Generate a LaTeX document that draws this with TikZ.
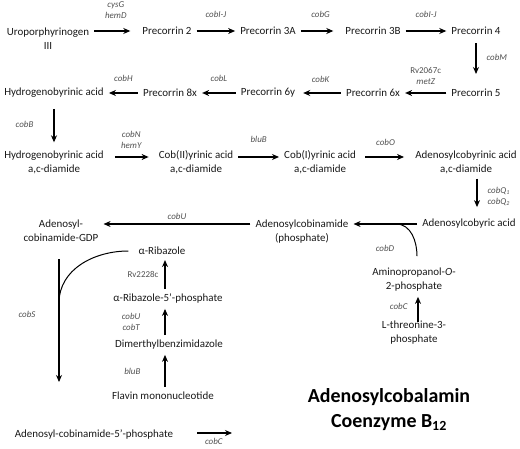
\documentclass[tikz,border=0pt]{standalone}
\usepackage{fontspec}
\setmainfont{Carlito}
\usetikzlibrary{arrows.meta}
\definecolor{enzgray}{HTML}{505050}

\begin{document}
\begin{tikzpicture}[x=1bp, y=-1bp]
%define
\tikzstyle{mol} = [inner sep=3bp, align=center, font=\fontsize{11}{14}\selectfont, text=black!90]
\tikzstyle{enz} = [inner sep=1bp, align=center, font=\fontsize{9}{10.5}\selectfont\itshape, text=enzgray]
\tikzstyle{title} = [align=center, font=\fontsize{20}{25}\selectfont\bfseries]
\tikzstyle{arrow} = [-{Stealth[length=7bp, width=6bp]}, line width=1.1bp, shorten >=2bp, shorten <=2bp]
\tikzstyle{link} = [line width=1bp]

\useasboundingbox (0,0) rectangle (520,449);

%corrin ring
\node[mol](mol_Uro) at (48,39){Uroporphyrinogen\\III};
\node[mol](mol_P2) at (167,31){Precorrin 2};
\node[mol](mol_P3A) at (268,31){Precorrin 3A};
\node[mol](mol_P3B) at (373,31){Precorrin 3B};
\node[mol](mol_P4) at (476,31){Precorrin 4};
\node[mol](mol_P5) at (476,93){Precorrin 5};
\node[mol](mol_P6x) at (373,93){Precorrin 6x};
\node[mol](mol_P6y) at (268,93){Precorrin 6y};
\node[mol](mol_P8x) at (170,93){Precorrin 8x};
\node[mol](mol_HBA) at (54,93){Hydrogenobyrinic acid};
\node[mol](mol_HBAD) at (54,162){Hydrogenobyrinic acid\\a,c-diamide};
\node[mol](mol_CobII) at (196,162){Cob(II)yrinic acid\\a,c-diamide};
\node[mol](mol_CobI) at (320,162){Cob(I)yrinic acid\\a,c-diamide};
\node[mol](mol_AdoCby) at (466,162){Adenosylcobyrinic acid\\a,c-diamide};
\node[mol](mol_AdoCbyric) at (469,224){Adenosylcobyric acid};
\node[mol](mol_AdoCbi) at (302,232){Adenosylcobinamide\\(phosphate)};
\node[mol](mol_GDP) at (61,231){Adenosyl-\\cobinamide-GDP};
\node[mol](mol_CbiP) at (94,435){Adenosyl-cobinamide-5’-phosphate};

%lower ligand
\node[mol](mol_Rib) at (162,251){α-Ribazole};
\node[mol](mol_RibP) at (168,299){α-Ribazole-5’-phosphate};
\node[mol](mol_DMB) at (169,345){Dimerthylbenzimidazole};
\node[mol](mol_FMN) at (163,396){Flavin mononucleotide};
\node[mol](mol_AP) at (414,280){Aminopropanol-\textit{O}-\\2-phosphate};
\node[mol](mol_LThr) at (414,333){L-threonine-3-\\phosphate};

\node[title](mol_Title) at (389,410){Adenosylcobalamin\\Coenzyme B\textsubscript{12}};

\coordinate (col_Rib) at (165,0);
\coordinate (col_Q) at (477,0);
\coordinate (cobD_join) at (396,224);
\coordinate (cobS_join) at (59,303);
\coordinate (cobS_end) at (59,384);
\coordinate (cobC_end) at (234,433);

\draw[arrow, shorten >=9bp](mol_Uro.east |- mol_P2) -- node[enz, above=11bp]{cysG\\hemD}(mol_P2);
\draw[arrow](mol_P2) -- node[enz, above=12bp]{cobI-J}(mol_P3A);
\draw[arrow, shorten >=9bp](mol_P3A) -- node[enz, above=12bp]{cobG}(mol_P3B);
\draw[arrow](mol_P3B) -- node[enz, above=12bp]{cobI-J}(mol_P4);
\draw[arrow, shorten <=5bp, shorten >=12bp](mol_P4) -- node[enz, right=9bp, pos=0.4]{cobM}(mol_P5);
\draw[arrow](mol_P5) -- node[enz, above=7bp]{\upshape Rv2067c\\metZ}(mol_P6x);
\draw[arrow, shorten >=5bp](mol_P6x) -- node[enz, above=9bp]{cobK}(mol_P6y);
\draw[arrow](mol_P6y) -- node[enz, above=10bp]{cobL}(mol_P8x);
\draw[arrow](mol_P8x) -- node[enz, above=10bp]{cobH}(mol_HBA);
\draw[arrow, shorten <=8bp, shorten >=5bp](mol_HBA) -- node[enz, left=19bp]{cobB}(mol_HBAD);

\draw[arrow, shorten <=8bp, shorten >=7bp]([yshift=5bp]mol_HBAD.east) -- node[enz, above=7bp]{cobN\\hemY}([yshift=5bp]mol_CobII.west);
\draw[arrow]([yshift=5bp]mol_CobII.east) -- node[enz, above=13bp]{bluB}([yshift=5bp]mol_CobI.west);
\draw[arrow, shorten <=6bp, shorten >=8bp]([yshift=5bp]mol_CobI.east) -- node[enz, above=10bp]{cobO}([yshift=5bp]mol_AdoCby.west);
\draw[arrow, shorten >=9bp](mol_AdoCby.south -| col_Q) -- node[enz, right=9bp]{cobQ\textsubscript{1}\\cobQ\textsubscript{2}}(mol_AdoCbyric.north -| col_Q);

\draw[arrow](mol_AdoCbyric) -- (mol_AdoCbi.east |- mol_AdoCbyric);
\draw[arrow](mol_AdoCbi.west |- mol_AdoCbyric) -- node[enz, above=3bp]{cobU}(mol_GDP.east |- mol_AdoCbyric);
\draw[link]([xshift=3bp, yshift=9bp]mol_AP.north) to[out=90, in=0](cobD_join);
\node[enz](enz_cobD) at (385,248){cobD};
\draw[arrow, shorten <=-4bp]([xshift=4bp]mol_LThr.north) -- node[enz, left=9bp]{cobC}([xshift=4bp]mol_AP.south);

\draw[arrow](mol_FMN.north -| col_Rib) -- node[enz, left=23bp]{bluB}(mol_DMB.south -| col_Rib);
\draw[arrow](mol_DMB.north -| col_Rib) -- node[enz, left=23bp]{cobU\\cobT}(mol_RibP.south -| col_Rib);
\draw[arrow](mol_RibP.north -| col_Rib) -- node[enz, left=5bp]{\upshape Rv2228c}(mol_Rib.south -| col_Rib);

\draw[link]([xshift=-7bp]mol_Rib.west) to[out=180, in=90](cobS_join);
\draw[arrow, shorten <=14bp](mol_GDP.south -| cobS_end) -- node[enz, left=22bp]{cobS}(cobS_end);
\draw[arrow, shorten <=21bp](mol_CbiP.east |- cobC_end) -- node[enz, below=4bp, pos=0.65]{cobC}(cobC_end);

\end{tikzpicture}
\end{document}
